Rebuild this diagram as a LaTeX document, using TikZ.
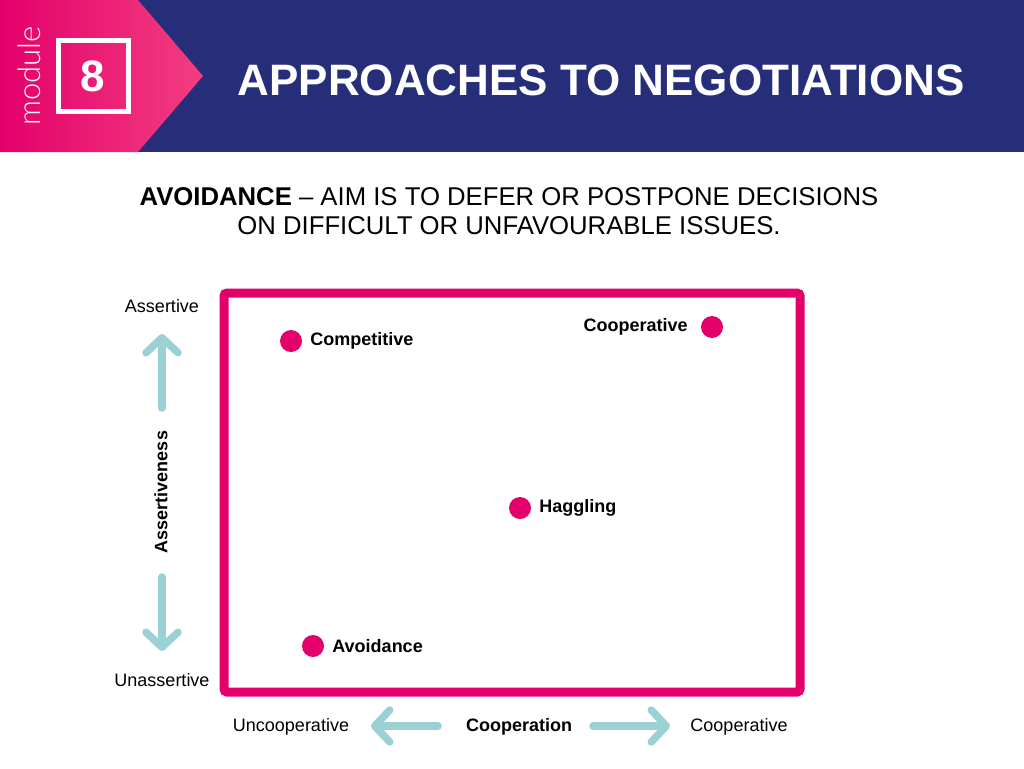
\documentclass[tikz,border=0pt]{standalone}
\usepackage{fontspec}
\setmainfont{Liberation Sans}
\newfontfamily\modfont{Lato Light}
\usepackage{tikz}
\usetikzlibrary{positioning, arrows.meta}
\definecolor{navy}{HTML}{262E7A}
\definecolor{hotpink}{HTML}{E4006B}
\definecolor{lightpink}{HTML}{F23E80}
\definecolor{teal}{HTML}{9BD0D5}
\tikzset{
x=1pt, y=-1pt, % pixel like coordinates
dot/.style={circle, fill=hotpink, minimum size=22pt, inner sep=0pt}, % the points in the square
lbl/.style={font=\fontsize{18}{20}\selectfont\bfseries, inner sep=1pt}, % labels of the points
axis/.style={font=\fontsize{18}{20}\selectfont, inner sep=1pt}, % ends of the axes
bigarrow/.style={teal, line width=7.5pt, line cap=round, -{Straight Barb[round, length=15pt, width=32pt]}}, % the light arrows
}

\begin{document}
\begin{tikzpicture}
        \useasboundingbox (0,0) rectangle (1024,768);
        \fill[navy] (0,0) rectangle (1024,152);
        \shade[left color=hotpink, right color=lightpink] (0,0) -- (138,0) -- (203,76) -- (138,152) -- (0,152) -- cycle;
        \node[rotate=90, white, font=\modfont\fontsize{31}{32}\selectfont] (mod) at (29,76) {module};
        \node[draw=white, line width=5pt, minimum size=70pt] (box) at (93,76) {};
        \node[white, font=\fontsize{44}{46}\selectfont\bfseries] (num) at (box) {8};
        \node[white, font=\fontsize{44}{46}\selectfont\bfseries] (title) at (601,80) {APPROACHES TO NEGOTIATIONS};
        \node[align=center, font=\fontsize{25.7}{28.5}\selectfont] (sub) at (509,211)
        {\textbf{AVOIDANCE} -- AIM IS TO DEFER OR POSTPONE DECISIONS\\ON DIFFICULT OR UNFAVOURABLE ISSUES.};
        \draw[hotpink, line width=9pt, rounded corners=3pt] (224,293) rectangle (800,692);
        \node[dot] (comp) at (291,341) {};
        \node[lbl, right=7pt of comp] {Competitive};
        \node[dot] (coop) at (712,327) {};
        \node[lbl, left=12pt of coop] {Cooperative};
        \node[dot] (hagg) at (520,508) {};
        \node[lbl, right=7pt of hagg] {Haggling};
        \node[dot] (avoid) at (313,646) {};
        \node[lbl, right=7pt of avoid] {Avoidance};
        \node[axis] (ass) at (162,306) {Assertive};
        \node[axis] (unass) at (162,680) {Unassertive};
        \node[lbl, rotate=90] (assness) at (161,492) {Assertiveness};
        \node[axis] (uncoop) at (291,727) {Uncooperative};
        \node[lbl] (coopn) at (519,727) {Cooperation};
        \node[axis] (coopv) at (739,727) {Cooperative};
        \coordinate (upS) at (162,408);
        \coordinate (upT) at (162,334);
        \coordinate (dnS) at (162,577);
        \coordinate (dnT) at (162,651);
        \coordinate (lfS) at (438,726);
        \coordinate (lfT) at (371,726);
        \coordinate (rtS) at (593,726);
        \coordinate (rtT) at (670,726);
        \draw[bigarrow] (upS) -- (upT);
        \draw[bigarrow] (dnS) -- (dnT);
        \draw[bigarrow] (lfS) -- (lfT);
        \draw[bigarrow] (rtS) -- (rtT);
\end{tikzpicture}
\end{document}
